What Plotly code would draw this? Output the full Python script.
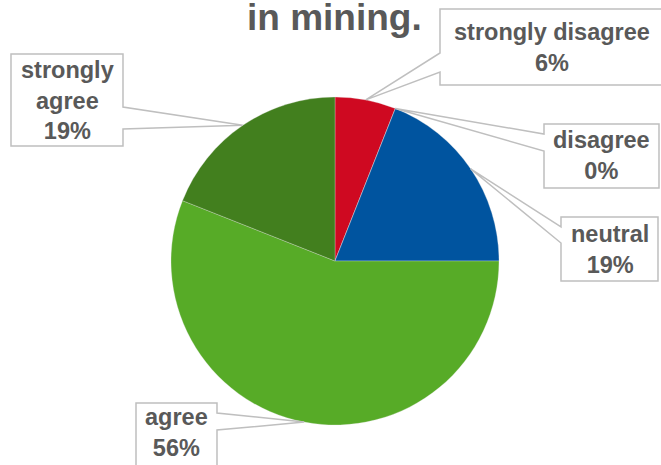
import math
import plotly.graph_objects as go

# Survey answers, percentages per response category
categories = ["strongly disagree", "disagree", "neutral", "agree", "strongly agree"]
percentages = [6, 0, 19, 56, 19]
label_names = ["strongly disagree", "disagree", "neutral", "agree", "strongly<br>agree"]
colors = ["#CF0921", "#7F7F7F", "#00549F", "#57AB27", "#427F1E"]

W, H = 661, 465
TEXT_GRAY = "#595959"
LINE_GRAY = "#BFBFBF"
FONT = "Liberation Sans, Arial, sans-serif"

# pie placement (pixels)
cx, cy, r = 335, 261, 164


def px(x):
    return x / W


def py(y):
    return 1 - y / H


fig = go.Figure(
    go.Pie(
        labels=categories,
        values=percentages,
        sort=False,
        direction="clockwise",
        rotation=0,
        marker=dict(colors=colors, line=dict(color="#E8E8E8", width=0.3)),
        textinfo="none",
        hoverinfo="label+percent",
        showlegend=False,
        domain=dict(x=[px(cx - r), px(cx + r)], y=[py(cy + r), py(cy - r)]),
    )
)

# callout boxes: x0, x1, y0, y1, side of the tail, tail attach y range
callouts = {
    "strongly disagree": (440, 664, 9, 85, "left", 53, 72),
    "disagree": (544, 659, 124, 188, "left", 134, 151),
    "neutral": (561, 658, 217, 281, "left", 227, 243),
    "agree": (136, 217, 403, 472, "right", 413, 430),
    "strongly agree": (11, 123, 54, 146, "right", 107, 129),
}
text_centers = {
    "agree": (176, 432),
}

total = sum(percentages)
cum = 0
shapes = []
annotations = []
for name, label, val in zip(categories, label_names, percentages):
    mid = (cum + val / 2) / total * 2 * math.pi
    cum += val
    tx = cx + r * math.sin(mid)
    ty = cy - r * math.cos(mid)
    x0, x1, y0, y1, side, a, b = callouts[name]
    if side == "left":
        pts = [(x0, y0), (x1, y0), (x1, y1), (x0, y1), (x0, b), (tx, ty), (x0, a)]
    else:
        pts = [(x0, y0), (x1, y0), (x1, a), (tx, ty), (x1, b), (x1, y1), (x0, y1)]
    path = "M " + " L ".join(f"{px(x):.5f},{py(y):.5f}" for x, y in pts) + " Z"
    shapes.append(dict(type="path", xref="paper", yref="paper", path=path,
                       fillcolor="white", line=dict(color=LINE_GRAY, width=1.5),
                       layer="above"))
    tcx, tcy = text_centers.get(name, ((x0 + x1) / 2, (y0 + y1) / 2))
    annotations.append(dict(
        x=px(tcx), y=py(tcy), xref="paper", yref="paper",
        xanchor="center", yanchor="middle", showarrow=False,
        text=f"{label}<br>{val}%", align="center",
        font=dict(family=FONT, size=23.5, color=TEXT_GRAY, weight="bold"),
    ))

annotations.append(dict(
    x=px(335), y=py(17.5), xref="paper", yref="paper",
    xanchor="center", yanchor="middle", showarrow=False,
    text="in mining.",
    font=dict(family=FONT, size=37, color=TEXT_GRAY, weight="bold"),
))

fig.update_layout(
    width=W, height=H,
    margin=dict(l=0, r=0, t=0, b=0),
    paper_bgcolor="white", plot_bgcolor="white",
    shapes=shapes, annotations=annotations,
)

fig.write_html("out.html")
